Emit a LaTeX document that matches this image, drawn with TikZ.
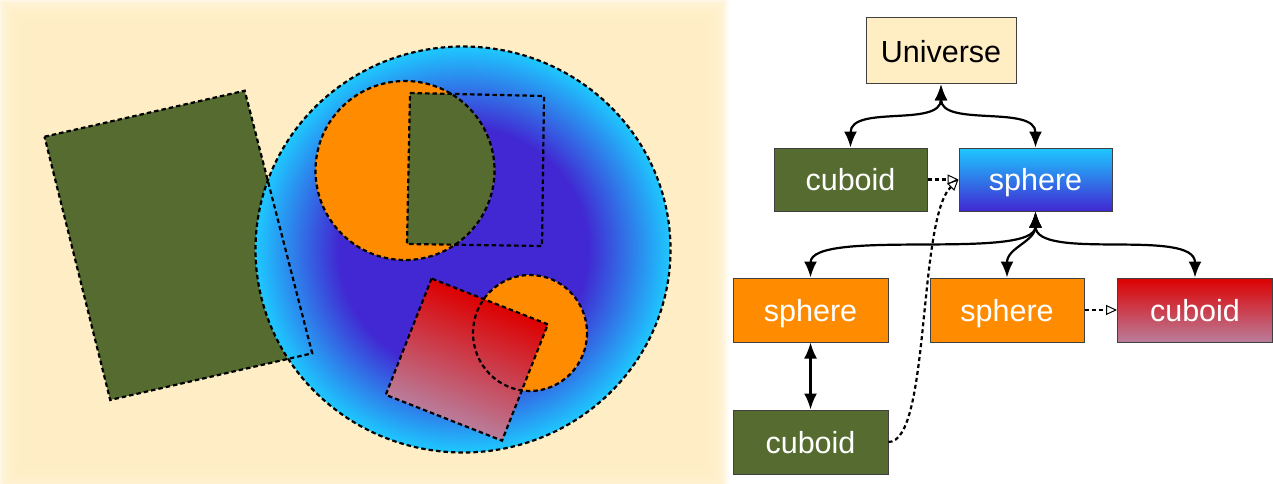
\documentclass[tikz,border=0pt]{standalone}
\usepackage{fontspec}
\setmainfont{Liberation Sans}
\usetikzlibrary{arrows.meta}
\definecolor{cream}{RGB}{255,238,196}
\definecolor{olive}{RGB}{85,107,47}
\definecolor{orng}{RGB}{255,140,0}
\definecolor{sphdark}{RGB}{65,40,210}
\definecolor{sphcyan}{RGB}{30,200,255}
\definecolor{redtop}{RGB}{221,0,0}
\definecolor{mauve}{RGB}{185,125,155}
\pgfdeclareradialshading{sphshade}{\pgfpoint{0bp}{0bp}}{color(0bp)=(sphdark); color(15bp)=(sphdark); color(25bp)=(sphcyan); color(50bp)=(sphcyan)}
\tikzset{
  shapeline/.style={draw=black, line width=2.2pt, dash pattern=on 4.5pt off 3pt},
  box/.style={draw=black!75, line width=1pt, inner sep=0pt, minimum height=64pt, minimum width=155pt, text=white, text height=22.5pt, text depth=0pt, font=\fontsize{30.5}{36}\selectfont},
  conn/.style={draw=black, line width=2.2pt, {Latex[length=16pt,width=13pt]}-{Latex[length=16pt,width=13pt]}},
  dconn/.style={draw=black, line width=2.2pt, dash pattern=on 4pt off 3pt, -{Triangle[open,length=11pt,width=10pt,line width=1pt]}}
}
\begin{document}
\begin{tikzpicture}[x=1pt,y=-1pt]
\useasboundingbox (0,0) rectangle (1273,484);
% blurred background
\foreach \i in {0,...,29} {
  \fill[cream, opacity=0.13] ({-3+0.9*\i},{-3+0.9*\i}) rectangle ({729-0.9*\i},{492-0.9*\i});
}
% fills
\fill[olive] (44.5,136.7) -- (244.7,90.7) -- (312.2,353.3) -- (110.2,400) -- cycle;
\shade[shading=sphshade] (463,249.5) ellipse [x radius=207.5, y radius=203];
\fill[orng] (405,170.5) circle [radius=89.5];
\begin{scope}
  \clip (405,170.5) circle [radius=89.5];
  \fill[olive] (410,93) -- (544,96) -- (542,246) -- (407,244) -- cycle;
\end{scope}
\fill[orng] (530,333) ellipse [x radius=57, y radius=58];
\begin{scope}[transform canvas={shift={(466.8,359.6)},rotate=-21.5}]
  \shade[top color=redtop, bottom color=mauve] (-62.5,-62.5) rectangle (62.5,62.5);
\end{scope}
% outlines
\draw[shapeline] (44.5,136.7) -- (244.7,90.7) -- (312.2,353.3) -- (110.2,400) -- cycle;
\draw[shapeline] (463,249.5) ellipse [x radius=207.5, y radius=203];
\draw[shapeline] (405,170.5) circle [radius=89.5];
\draw[shapeline] (410,93) -- (544,96) -- (542,246) -- (407,244) -- cycle;
\draw[shapeline] (530,333) ellipse [x radius=57, y radius=58];
\begin{scope}[transform canvas={shift={(466.8,359.6)},rotate=-21.5}]
  \draw[shapeline] (-62.5,-62.5) rectangle (62.5,62.5);
\end{scope}
% tree
\node[box, fill=cream, text=black, minimum width=150pt, minimum height=66pt] (U) at (941,51) {Universe};
\node[box, fill=olive, minimum width=153pt, minimum height=63pt] (c1) at (850.5,179.5) {cuboid};
\node[box, top color=sphcyan, bottom color=sphdark, draw=black!75, minimum width=153pt, minimum height=63pt] (s1) at (1035.5,179.5) {sphere};
\node[box, fill=orng] (sL) at (810.5,310) {sphere};
\node[box, fill=orng, minimum width=154pt] (sM) at (1007,310) {sphere};
\node[box, top color=redtop, bottom color=mauve, draw=black!75] (cR) at (1195,310) {cuboid};
\node[box, fill=olive] (cB) at (810.5,442) {cuboid};
\draw[conn] (U.south) .. controls +(0,43) and +(0,-43) .. (c1.north);
\draw[conn] (U.south) .. controls +(0,43) and +(0,-43) .. (s1.north);
\draw[conn] (s1.south) .. controls +(0,50) and +(0,-50) .. (sL.north);
\draw[conn] (s1.south) .. controls +(0,30) and +(0,-30) .. (sM.north);
\draw[conn] (s1.south) .. controls +(0,50) and +(0,-50) .. (cR.north);
\draw[conn] (sL.south) -- (cB.north);
\draw[dconn] (c1.east) -- (s1.west);
\draw[dconn] (sM.east) -- (cR.west);
\draw[dconn] (cB.east) .. controls +(42,0) and +(-41,40) .. (s1.west);
\end{tikzpicture}
\end{document}
